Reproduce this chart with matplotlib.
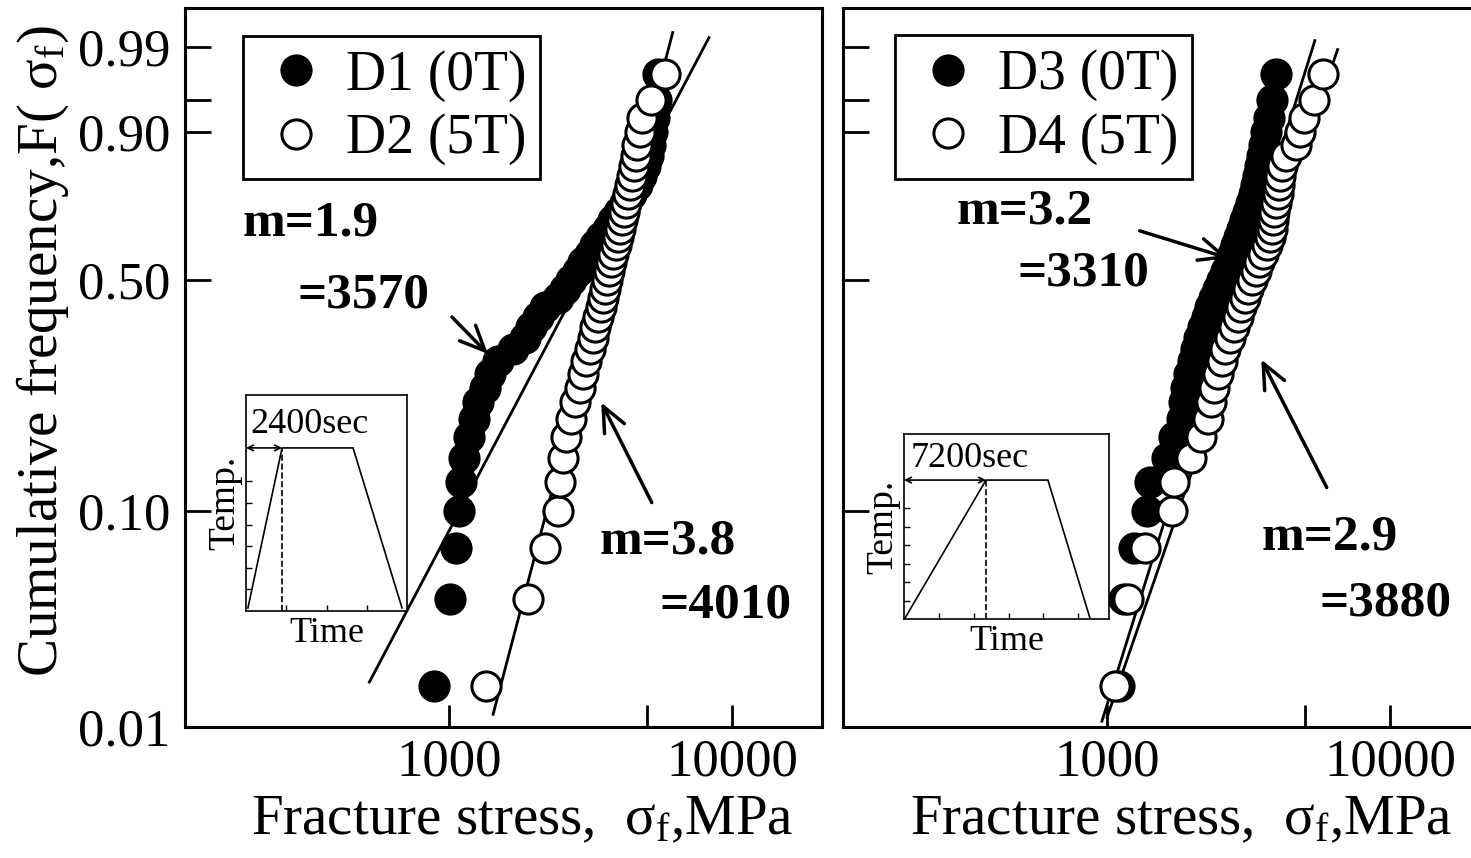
import numpy as np
import matplotlib
matplotlib.use('Agg')
import matplotlib.pyplot as plt

plt.rcParams['font.family'] = ['Liberation Serif', 'DejaVu Serif']
plt.rcParams['mathtext.fontset'] = 'custom'
plt.rcParams['mathtext.rm'] = 'Liberation Serif'
plt.rcParams['mathtext.it'] = 'Liberation Serif:italic'
plt.rcParams['mathtext.bf'] = 'Liberation Serif:bold'

# cumulative frequency of each rank (39 specimens per batch)
F_RANK = [0.025, 0.050, 0.075, 0.100, 0.125, 0.150, 0.175, 0.200, 0.225, 0.250,
          0.275, 0.300, 0.325, 0.350, 0.375, 0.400, 0.425, 0.450, 0.475, 0.500,
          0.525, 0.550, 0.575, 0.600, 0.625, 0.650, 0.675, 0.700, 0.725, 0.750,
          0.775, 0.800, 0.825, 0.850, 0.875, 0.900, 0.925, 0.950, 0.975]

# fracture stress, MPa (sorted)
D1 = [886, 1008, 1058, 1084, 1102, 1129, 1175, 1224, 1274, 1348, 1404, 1498, 1691,
      1863, 1956, 2069, 2190, 2432, 2573, 2701, 2858, 2977, 3150, 3280, 3442, 3642,
      3793, 3981, 4180, 4387, 4605, 4794, 4951, 5074, 5157, 5241, 5326, 5413, 5501]
D2 = [1350, 1910, 2190, 2430, 2470, 2530, 2590, 2700, 2790, 2900, 2980, 3050, 3150,
      3230, 3280, 3360, 3440, 3500, 3560, 3610, 3670, 3730, 3790, 3890, 3950, 4010,
      4080, 4150, 4210, 4280, 4350, 4420, 4500, 4570, 4640, 4720, 4830, 5160, 5820]
D3 = [1102, 1147, 1244, 1382, 1415, 1624, 1719, 1833, 1878, 1909, 1956, 2020, 2069,
      2120, 2190, 2262, 2317, 2393, 2471, 2553, 2637, 2723, 2790, 2858, 2929, 3001,
      3075, 3150, 3227, 3306, 3360, 3415, 3470, 3527, 3584, 3642, 3732, 3824, 3950]
D4 = [1067, 1185, 1360, 1691, 1719, 1987, 2154, 2280, 2336, 2393, 2471, 2553, 2615,
      2723, 2813, 2905, 2977, 3075, 3150, 3253, 3360, 3442, 3555, 3672, 3762, 3824,
      3855, 3886, 3950, 4014, 4047, 4080, 4146, 4282, 4642, 4794, 4951, 5369, 5774]

# Weibull fits: modulus m, scale sigma0, drawn stress range
FIT_M = [1.9, 3.8, 3.2, 2.9]
FIT_S0 = [3570, 4010, 3310, 3880]
FIT_LO = [525, 1435, 960, 1000]
FIT_HI = [8300, 6180, 5420, 6520]

LABELS = ['D1 (0T)', 'D2 (5T)', 'D3 (0T)', 'D4 (5T)']

# heat treatment profile of the insets (relative units)
INSET_TIME = [[0.012, 0.224, 0.665, 0.969], [0.005, 0.400, 0.702, 0.907]]
INSET_TEMP = [[0.014, 0.755, 0.755, 0.014], [0.005, 0.751, 0.751, 0.005]]
INSET_TEXT = ['2400sec', '7200sec']

Y_TICKS = [0.10, 0.50, 0.90, 0.95, 0.99]
Y_TICKLABELS = ['0.10', '0.50', '0.90', '', '0.99']
YMIN, YMAX = 0.018, 0.9982
XMIN, XMAX = 117, 20870

W, H = 1471, 858


def fxy(x, y):
    return (x / W, 1 - y / H)


def weib(F):
    F = np.clip(np.asarray(F, dtype=float), 1e-9, 1 - 1e-12)
    return np.log(-np.log(1 - F))


def weib_inv(y):
    return 1 - np.exp(-np.exp(y))


fig = plt.figure(figsize=(W / 100, H / 100), dpi=100)

panels = [[0.1256, 0.1527, 0.4335, 0.838], [0.5731, 0.1527, 0.4335, 0.838]]
legend_pos = [(0.0914, 0.961), (0.0815, 0.962)]
inset_rects = [[246 / W, 1 - 611 / H, 161 / W, 216 / H],
               [904 / W, 1 - 619 / H, 205 / W, 185 / H]]
inset_xticks = [[0.25, 0.5, 0.75], [0.17, 0.34, 0.51, 0.68, 0.85]]

series = [D1, D2, D3, D4]

for p in range(2):
    ax = fig.add_axes(panels[p])
    ax.set_xscale('log')
    ax.set_yscale('function', functions=(weib, weib_inv))

    handles = []
    for k in [2 * p, 2 * p + 1]:
        m, s0 = FIT_M[k], FIT_S0[k]
        xs = np.array([FIT_LO[k], FIT_HI[k]], dtype=float)
        ax.plot(xs, 1 - np.exp(-(xs / s0) ** m), color='black', lw=2, zorder=2)
    for k, face in zip([2 * p, 2 * p + 1], ['black', 'white']):
        h, = ax.plot(series[k], F_RANK, 'o', ms=21, mfc=face, mec='black',
                     mew=2.2, label=LABELS[k], zorder=3)
        handles.append(h)

    ax.set_xlim(XMIN, XMAX)
    ax.set_ylim(YMIN, YMAX)
    ax.set_xticks([1000, 5000, 10000])
    ax.set_xticklabels(['1000', '', '10000'])
    ax.xaxis.set_minor_locator(matplotlib.ticker.NullLocator())
    ax.yaxis.set_minor_locator(matplotlib.ticker.NullLocator())
    if p == 0:
        ax.set_yticks([YMIN] + Y_TICKS)
        ax.set_yticklabels(['0.01'] + Y_TICKLABELS)
    else:
        ax.set_yticks(Y_TICKS)
        ax.set_yticklabels([])
    ax.tick_params(axis='y', direction='in', length=19, width=2,
                   labelsize=38, pad=10)
    ax.tick_params(axis='x', direction='in', length=16, width=2,
                   labelsize=38, pad=8)
    for s in ax.spines.values():
        s.set_linewidth(2.2)

    ax.set_xlabel('Fracture stress,  σ$_{\\rm f}$,MPa', fontsize=41)
    ax.xaxis.set_label_coords(0.53, -0.094)
    if p == 0:
        ax.set_ylabel('Cumulative frequency,F( σ$_{\\rm f}$)', fontsize=41)
        ax.yaxis.set_label_coords(-0.178, 0.522)

    leg = ax.legend(handles=handles, loc='upper left', bbox_to_anchor=legend_pos[p],
                    frameon=True, fancybox=False, edgecolor='black', framealpha=1,
                    fontsize=40, borderpad=0.25, handlelength=1.4,
                    handletextpad=0.2, labelspacing=0.2, borderaxespad=0)
    leg.get_frame().set_linewidth(2)

    # inset with the heat treatment
    iax = fig.add_axes(inset_rects[p])
    t, T = INSET_TIME[p], INSET_TEMP[p]
    iax.plot(t, T, color='black', lw=1.2)
    iax.plot([t[1], t[1]], [0, T[1]], color='black', lw=1.2, ls='--')
    iax.annotate('', xy=(0, T[1]), xytext=(t[1], T[1]),
                 arrowprops=dict(arrowstyle='<->', lw=1.2, color='black',
                                 shrinkA=0, shrinkB=0))
    iax.text(0.03, T[1] + 0.03, INSET_TEXT[p], fontsize=26, ha='left', va='bottom')
    iax.set_xlim(0, 1)
    iax.set_ylim(0, 1)
    iax.set_xticks(inset_xticks[p])
    iax.set_yticks([0.1, 0.2, 0.3, 0.4, 0.5, 0.6])
    iax.tick_params(direction='in', length=4, width=1, labelbottom=False,
                    labelleft=False)
    for s in iax.spines.values():
        s.set_linewidth(1.2)
    iax.set_xlabel('Time', fontsize=26, labelpad=4)
    iax.set_ylabel('Temp.', fontsize=27, labelpad=3)

# fit annotations
notes = [('m=1.9', 243, 224), ('=3570', 298, 295), ('m=3.8', 600, 542),
         ('=4010', 660, 606), ('m=3.2', 957, 212), ('=3310', 1017, 273),
         ('m=2.9', 1262, 537), ('=3880', 1320, 603)]
for txt, x, y in notes:
    fig.text(*fxy(x, y), txt, fontsize=37, fontweight='bold', ha='left', va='center')

arrows = [((450, 315), (490, 356)), ((653, 505), (600, 400)),
          ((1137, 230), (1231, 259)), ((1328, 490), (1260, 357))]
for tail, head in arrows:
    fig.add_artist(matplotlib.patches.FancyArrowPatch(
        fxy(*tail), fxy(*head), transform=fig.transFigure,
        arrowstyle='->,head_length=0.45,head_width=0.2', mutation_scale=40,
        lw=2.5, color='black'))

fig.savefig('out.png', dpi=100)
